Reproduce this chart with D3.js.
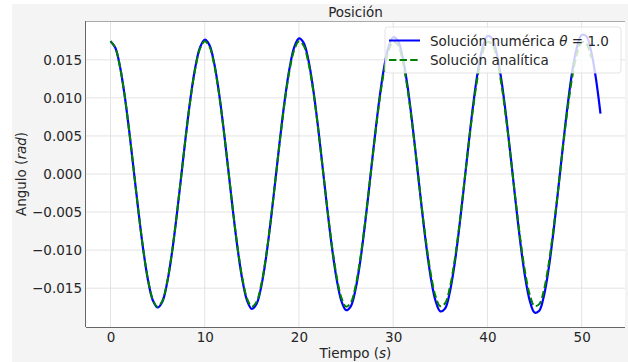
<!DOCTYPE html>
<html>
<head>
<meta charset="utf-8">
<script src="https://cdn.jsdelivr.net/npm/d3@7"></script>
<style>
  body { margin: 0; background: #fff; }
  text { font-family: "DejaVu Sans", sans-serif; fill: #262626; }
</style>
</head>
<body>
<div id="chart"></div>
<script>
// time samples (s) every 0.5 s
var tNum = d3.range(0, 105).map(function(k) { return k * 0.5; });   // 0 .. 52
var tAna = d3.range(0, 103).map(function(k) { return k * 0.5; });   // 0 .. 51

// numerical solution, theta = 1.0 (rad)
var numerica = [
  0.01745, 0.01661, 0.01416, 0.01033, 0.00549, 0.00011, -0.00528, -0.01017, -0.01408, -0.01662,
  -0.01754, -0.01677, -0.01436, -0.01056, -0.00573, -0.00033, 0.00510, 0.01005, 0.01402, 0.01663,
  0.01764, 0.01693, 0.01457, 0.01080, 0.00597, 0.00056, -0.00492, -0.00992, -0.01396, -0.01665,
  -0.01773, -0.01708, -0.01477, -0.01103, -0.00621, -0.00078, 0.00473, 0.00979, 0.01390, 0.01666,
  0.01781, 0.01723, 0.01498, 0.01126, 0.00645, 0.00101, -0.00454, -0.00965, -0.01383, -0.01667,
  -0.01789, -0.01738, -0.01518, -0.01150, -0.00670, -0.00124, 0.00434, 0.00951, 0.01376, 0.01668,
  0.01797, 0.01753, 0.01538, 0.01173, 0.00694, 0.00147, -0.00414, -0.00937, -0.01369, -0.01668,
  -0.01805, -0.01768, -0.01558, -0.01197, -0.00719, -0.00171, 0.00394, 0.00922, 0.01361, 0.01668,
  0.01813, 0.01782, 0.01578, 0.01220, 0.00744, 0.00195, -0.00374, -0.00907, -0.01353, -0.01667,
  -0.01820, -0.01796, -0.01598, -0.01244, -0.00769, -0.00219, 0.00353, 0.00892, 0.01344, 0.01666,
  0.01826, 0.01810, 0.01617, 0.01267, 0.00794
];

// analytical solution (rad)
var analitica = [
  0.01745, 0.01660, 0.01414, 0.01031, 0.00548, 0.00011, -0.00527, -0.01013, -0.01401, -0.01654,
  -0.01745, -0.01667, -0.01427, -0.01049, -0.00568, -0.00033, 0.00506, 0.00995, 0.01388, 0.01646,
  0.01744, 0.01673, 0.01439, 0.01066, 0.00589, 0.00055, -0.00485, -0.00977, -0.01375, -0.01639,
  -0.01744, -0.01679, -0.01452, -0.01083, -0.00610, -0.00077, 0.00464, 0.00959, 0.01361, 0.01631,
  0.01743, 0.01685, 0.01464, 0.01100, 0.00630, 0.00099, -0.00443, -0.00941, -0.01347, -0.01623,
  -0.01742, -0.01691, -0.01476, -0.01117, -0.00651, -0.00120, 0.00421, 0.00922, 0.01333, 0.01615,
  0.01740, 0.01696, 0.01487, 0.01134, 0.00671, 0.00142, -0.00400, -0.00903, -0.01319, -0.01607,
  -0.01738, -0.01701, -0.01499, -0.01151, -0.00691, -0.00164, 0.00379, 0.00885, 0.01305, 0.01598,
  0.01736, 0.01706, 0.01510, 0.01167, 0.00711, 0.00186, -0.00357, -0.00866, -0.01290, -0.01589,
  -0.01734, -0.01710, -0.01521, -0.01183, -0.00731, -0.00208, 0.00336, 0.00846, 0.01275, 0.01580,
  0.01731, 0.01715, 0.01531
];

var xTicks = [0, 10, 20, 30, 40, 50];
var yTicks = [-0.015, -0.010, -0.005, 0.000, 0.005, 0.010, 0.015];

var width = 628, height = 362;
var margin = {top: 21, right: 3, bottom: 35, left: 86};

var svg = d3.select("#chart").append("svg")
    .attr("width", width)
    .attr("height", height);

// figure background
svg.append("rect")
    .attr("x", 12).attr("y", 4)
    .attr("width", width - 12).attr("height", height - 4)
    .attr("fill", "#f4f4f4");

var x = d3.scaleLinear().domain([-2.6, 54.6]).range([margin.left, width - margin.right]);
var y = d3.scaleLinear().domain([-0.0201, 0.0201]).range([height - margin.bottom, margin.top]);

// plot area
svg.append("rect")
    .attr("x", x.range()[0]).attr("y", y.range()[1])
    .attr("width", x.range()[1] - x.range()[0])
    .attr("height", y.range()[0] - y.range()[1])
    .attr("fill", "#fff");

// grid
svg.append("g").selectAll("line").data(xTicks).join("line")
    .attr("x1", function(d) { return x(d); }).attr("x2", function(d) { return x(d); })
    .attr("y1", y.range()[1]).attr("y2", y.range()[0])
    .attr("stroke", "#e3e3e3").attr("stroke-width", 1);
svg.append("g").selectAll("line").data(yTicks).join("line")
    .attr("x1", x.range()[0]).attr("x2", x.range()[1])
    .attr("y1", function(d) { return y(d); }).attr("y2", function(d) { return y(d); })
    .attr("stroke", "#e3e3e3").attr("stroke-width", 1);

// axes (labels only, no tick marks)
var xAxis = svg.append("g")
    .attr("transform", "translate(0," + y.range()[0] + ")")
    .call(d3.axisBottom(x).tickValues(xTicks).tickSize(0).tickPadding(5).tickFormat(d3.format("d")));
var yAxis = svg.append("g")
    .attr("transform", "translate(" + x.range()[0] + ",0)")
    .call(d3.axisLeft(y).tickValues(yTicks).tickSize(0).tickPadding(4)
        .tickFormat(function(d) { return d3.format(".3f")(d).replace("-", "\u2212"); }));
[xAxis, yAxis].forEach(function(a) {
    a.select(".domain").remove();
    a.selectAll("text").style("font-size", "13.5px").style("font-family", "DejaVu Sans").attr("fill", "#262626");
});
xAxis.selectAll("text").attr("dy", "0.71em");

// clip for curves
svg.append("clipPath").attr("id", "clip").append("rect")
    .attr("x", x.range()[0]).attr("y", y.range()[1])
    .attr("width", x.range()[1] - x.range()[0])
    .attr("height", y.range()[0] - y.range()[1]);

var line = d3.line()
    .x(function(d) { return x(d[0]); })
    .y(function(d) { return y(d[1]); })
    .curve(d3.curveCatmullRom);

var curves = svg.append("g").attr("clip-path", "url(#clip)");
curves.append("path")
    .datum(d3.zip(tNum, numerica))
    .attr("d", line)
    .attr("fill", "none")
    .attr("stroke", "#0000ff")
    .attr("stroke-width", 2.2);
curves.append("path")
    .datum(d3.zip(tAna, analitica))
    .attr("d", line)
    .attr("fill", "none")
    .attr("stroke", "#008000")
    .attr("stroke-width", 2)
    .attr("stroke-dasharray", "7.4,3.2");

// spines
svg.append("line")
    .attr("x1", x.range()[0]).attr("x2", x.range()[1])
    .attr("y1", y.range()[1] + 0.5).attr("y2", y.range()[1] + 0.5)
    .attr("stroke", "#aaa");
svg.append("line")
    .attr("x1", x.range()[0] - 0.5).attr("x2", x.range()[0] - 0.5)
    .attr("y1", y.range()[1]).attr("y2", y.range()[0])
    .attr("stroke", "#666");
svg.append("line")
    .attr("x1", x.range()[0]).attr("x2", x.range()[1])
    .attr("y1", y.range()[0] + 0.5).attr("y2", y.range()[0] + 0.5)
    .attr("stroke", "#666");

// title and axis labels
svg.append("text")
    .attr("x", (x.range()[0] + x.range()[1]) / 2).attr("y", 17)
    .attr("text-anchor", "middle").style("font-size", "13.5px")
    .text("Posición");

var xl = svg.append("text")
    .attr("x", (x.range()[0] + x.range()[1]) / 2).attr("y", 358)
    .attr("text-anchor", "middle").style("font-size", "13.5px");
xl.append("tspan").text("Tiempo (");
xl.append("tspan").style("font-style", "italic").text("s");
xl.append("tspan").text(")");

var yl = svg.append("text")
    .attr("transform", "translate(26," + (y.range()[0] + y.range()[1]) / 2 + ") rotate(-90)")
    .attr("text-anchor", "middle").style("font-size", "13.5px");
yl.append("tspan").text("Angulo (");
yl.append("tspan").style("font-style", "italic").text("rad");
yl.append("tspan").text(")");

// legend
var legend = svg.append("g");
legend.append("rect")
    .attr("x", 385).attr("y", 27).attr("width", 236).attr("height", 46)
    .attr("rx", 3)
    .attr("fill", "#fff").attr("fill-opacity", 0.8)
    .attr("stroke", "#ddd").attr("stroke-opacity", 0.8);
legend.append("line")
    .attr("x1", 389).attr("x2", 420).attr("y1", 40.5).attr("y2", 40.5)
    .attr("stroke", "#0000ff").attr("stroke-width", 2);
legend.append("line")
    .attr("x1", 389).attr("x2", 420).attr("y1", 60).attr("y2", 60)
    .attr("stroke", "#008000").attr("stroke-width", 2)
    .attr("stroke-dasharray", "7.4,3.2");
var l1 = legend.append("text").attr("x", 430).attr("y", 45.5).style("font-size", "13.5px");
l1.append("tspan").text("Solución numérica ");
l1.append("tspan").style("font-style", "italic").text("θ");
l1.append("tspan").text(" = 1.0");
legend.append("text").attr("x", 430).attr("y", 65).style("font-size", "13.5px")
    .text("Solución analítica");
</script>
</body>
</html>
